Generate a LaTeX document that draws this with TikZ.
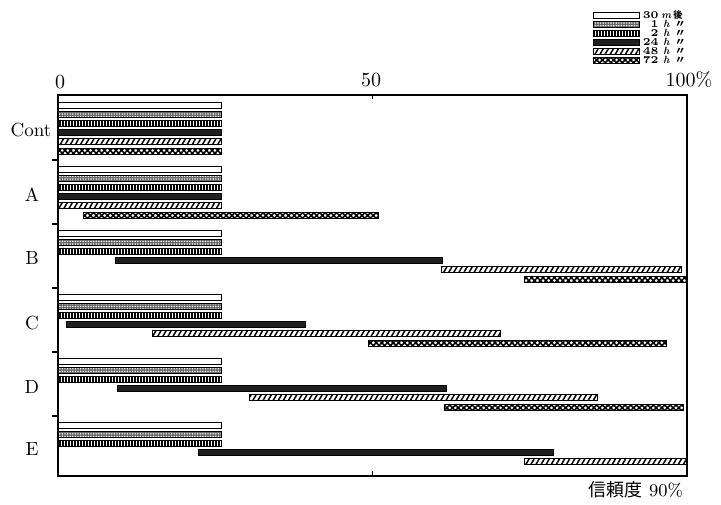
\documentclass[tikz,border=0pt]{standalone}
\usepackage{fontspec}
\newfontfamily\jafont{Noto Sans CJK JP}
\usetikzlibrary{patterns.meta}

% one bar: style, group top, row, from (%), to (%)
\newcommand{\timebar}[5]{%
  \path[#1] ({58+6.29*#4},{#2+6+9.2*#3}) rectangle ({58+6.29*#5},{#2+12+9.2*#3});}

\begin{document}
\begin{tikzpicture}[x=0.5pt, y=-0.5pt,
  frame/.style={draw=black, line width=0.7pt},
  bar30m/.style={draw=black, line width=0.5pt, fill=white},
  bar1h/.style={draw=black, line width=0.5pt, preaction={fill=black!60}, pattern={Dots[distance=1.3pt, radius=0.4pt]}, pattern color=white},
  bar2h/.style={draw=black, line width=0.5pt, preaction={fill=white}, pattern={Lines[angle=90, distance=1.5pt, line width=0.55pt]}},
  bar24h/.style={draw=black, line width=0.5pt, fill=black!88},
  bar48h/.style={draw=black, line width=0.5pt, preaction={fill=white}, pattern={Lines[angle=60, distance=2.2pt, line width=0.75pt]}},
  bar72h/.style={draw=black, line width=0.5pt, preaction={fill=white}, pattern={Hatch[angle=45, distance=2pt, line width=0.8pt]}},
  axislabel/.style={font=\fontsize{10}{12}\selectfont, inner sep=0pt},
  grouplabel/.style={font=\fontsize{9.5}{11}\selectfont, inner sep=0pt},
  legendtext/.style={font=\fontsize{5.2}{6}\selectfont\bfseries, inner sep=0pt}
]
  \useasboundingbox (0,0) rectangle (721,504);

  % Legend
  \foreach \s [count=\i from 0] in {bar30m,bar1h,bar2h,bar24h,bar48h,bar72h}
    \path[\s] (593,{12+9*\i}) rectangle (639,{18+9*\i});
  \node[legendtext, anchor=east] (lnum0) at (659,15) {30};
  \node[legendtext, anchor=west] (lunit0) at (661,15.5) {\textit{m}\,{\jafont\fontsize{4.6}{5}\selectfont 後}};
  \foreach \n [count=\i from 1] in {1,2,24,48,72} {
    \node[legendtext, anchor=east] (lnum\i) at (659,{15+9*\i}) {\n};
    \node[legendtext, anchor=west] (lunit\i) at (663,{15+9*\i}) {\textit{h}\enspace{\jafont 〃}};
  }

  % Short bars (30m, 1h, 2h)
  \foreach \g in {96,160,224,288,352,416}
    \foreach \s [count=\i from 0] in {bar30m,bar1h,bar2h}
      \timebar{\s}{\g}{\i}{0}{26};

  % Cont and A
  \foreach \g in {96,160} {\timebar{bar24h}{\g}{3}{0}{26} \timebar{bar48h}{\g}{4}{0}{26}}
  \timebar{bar72h}{96}{5}{0}{26}
  \timebar{bar72h}{160}{5}{4.1}{51}
  % B
  \timebar{bar24h}{224}{3}{9.1}{61.2}
  \timebar{bar48h}{224}{4}{61}{99.2}
  \timebar{bar72h}{224}{5}{74.1}{100}
  % C
  \timebar{bar24h}{288}{3}{1.4}{39.4}
  \timebar{bar48h}{288}{4}{15.1}{70.4}
  \timebar{bar72h}{288}{5}{49.3}{96.7}
  % D
  \timebar{bar24h}{352}{3}{9.4}{61.7}
  \timebar{bar48h}{352}{4}{30.4}{85.7}
  \timebar{bar72h}{352}{5}{61.5}{99.5}
  % E
  \timebar{bar24h}{416}{3}{22.3}{78.7}
  \timebar{bar48h}{416}{4}{74.2}{100}

  % Frame and ticks
  \draw[frame] (58,95) rectangle (687,476);
  \foreach \y in {160,224,288,352,416} \draw[frame] (52,\y) -- (58,\y);
  \draw[frame] (372.5,95) -- (372.5,99);
  \draw[frame] (372.5,476) -- (372.5,471);

  % Axis labels
  \node[axislabel] (zero) at (60,82) {0};
  \node[axislabel] (fifty) at (371,80) {50};
  \node[axislabel] (hundred) at (689,80) {100\%};

  % Group labels
  \node[grouplabel] (cont) at (31,130) {Cont};
  \node[grouplabel] (grpA) at (32,195) {A};
  \node[grouplabel] (grpB) at (32,258) {B};
  \node[grouplabel] (grpC) at (32,323) {C};
  \node[grouplabel] (grpD) at (32,387) {D};
  \node[grouplabel] (grpE) at (32,449) {E};

  \node[axislabel, font=\fontsize{9}{11}\selectfont] (conf) at (636,490) {{\jafont 信頼度}\ 90\%};
\end{tikzpicture}
\end{document}
